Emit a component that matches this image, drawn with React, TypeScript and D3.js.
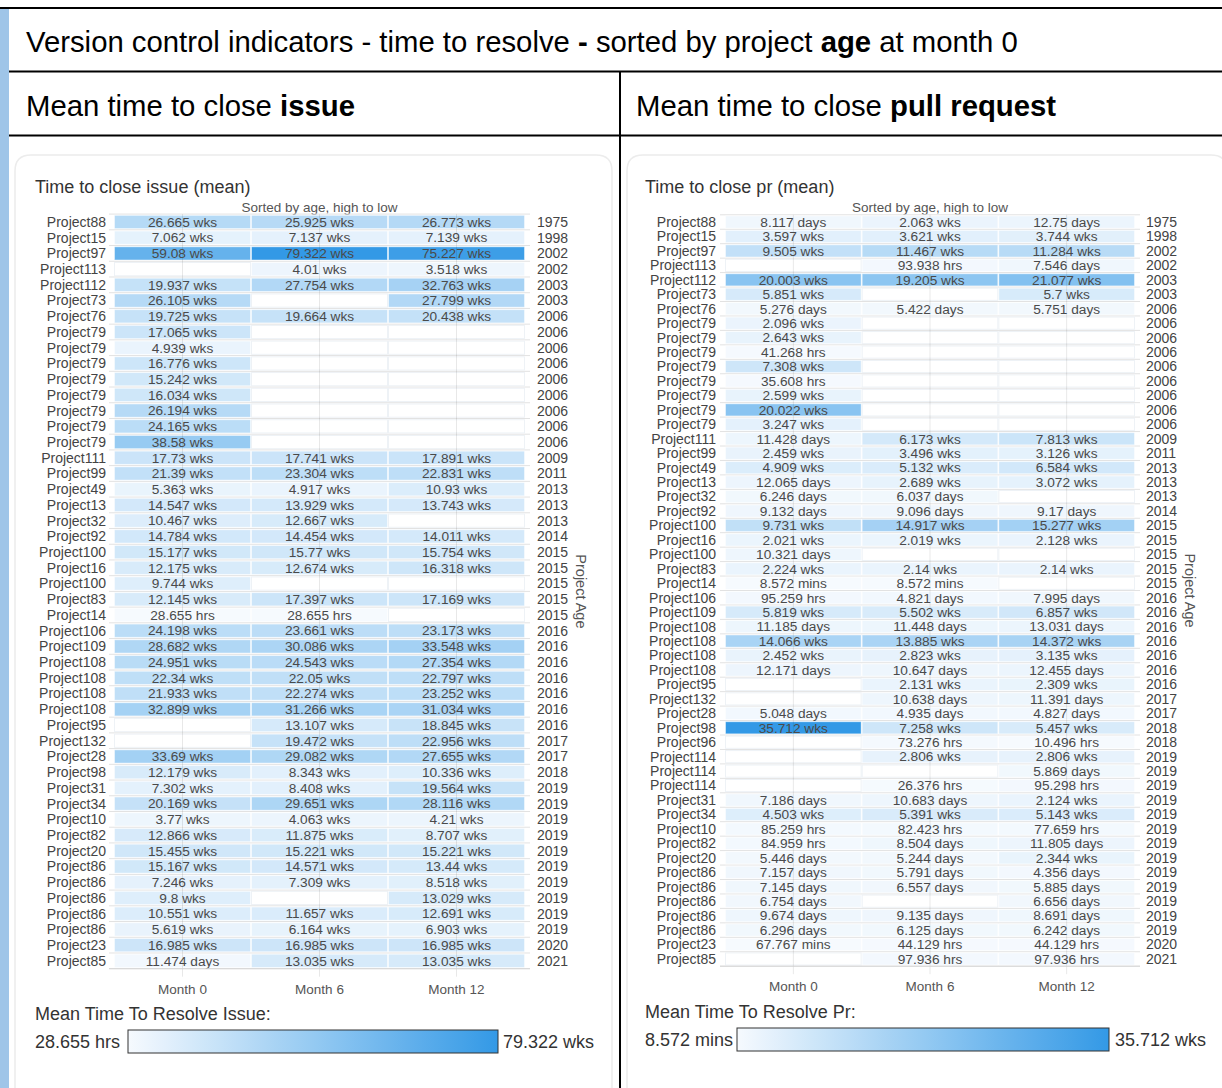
import React from "react";
import * as d3 from "d3";

const FONT = "'Liberation Sans', Arial, Helvetica, sans-serif";

const monthLabels = ["Month 0", "Month 6", "Month 12"];

// ---------- Issue panel data ----------
const issueProjects = [
  "Project88", "Project15", "Project97", "Project113", "Project112", "Project73", "Project76",
  "Project79", "Project79", "Project79", "Project79", "Project79", "Project79", "Project79", "Project79",
  "Project111", "Project99", "Project49", "Project13", "Project32", "Project92", "Project100", "Project16",
  "Project100", "Project83", "Project14", "Project106", "Project109", "Project108", "Project108", "Project108",
  "Project108", "Project95", "Project132", "Project28", "Project98", "Project31", "Project34", "Project10",
  "Project82", "Project20", "Project86", "Project86", "Project86", "Project86", "Project86", "Project23", "Project85",
];
const issueYears = [
  1975, 1998, 2002, 2002, 2003, 2003, 2006,
  2006, 2006, 2006, 2006, 2006, 2006, 2006, 2006,
  2009, 2011, 2013, 2013, 2013, 2014, 2015, 2015,
  2015, 2015, 2015, 2016, 2016, 2016, 2016, 2016,
  2016, 2016, 2017, 2017, 2018, 2019, 2019, 2019,
  2019, 2019, 2019, 2019, 2019, 2019, 2019, 2020, 2021,
];
const issueMonth0 = [
  "26.665 wks", "7.062 wks", "59.08 wks", null, "19.937 wks", "26.105 wks", "19.725 wks",
  "17.065 wks", "4.939 wks", "16.776 wks", "15.242 wks", "16.034 wks", "26.194 wks", "24.165 wks", "38.58 wks",
  "17.73 wks", "21.39 wks", "5.363 wks", "14.547 wks", "10.467 wks", "14.784 wks", "15.177 wks", "12.175 wks",
  "9.744 wks", "12.145 wks", "28.655 hrs", "24.198 wks", "28.682 wks", "24.951 wks", "22.34 wks", "21.933 wks",
  "32.899 wks", null, null, "33.69 wks", "12.179 wks", "7.302 wks", "20.169 wks", "3.77 wks",
  "12.866 wks", "15.455 wks", "15.167 wks", "7.246 wks", "9.8 wks", "10.551 wks", "5.619 wks", "16.985 wks", "11.474 days",
];
const issueMonth6 = [
  "25.925 wks", "7.137 wks", "79.322 wks", "4.01 wks", "27.754 wks", null, "19.664 wks",
  null, null, null, null, null, null, null, null,
  "17.741 wks", "23.304 wks", "4.917 wks", "13.929 wks", "12.667 wks", "14.454 wks", "15.77 wks", "12.674 wks",
  null, "17.397 wks", "28.655 hrs", "23.661 wks", "30.086 wks", "24.543 wks", "22.05 wks", "22.274 wks",
  "31.266 wks", "13.107 wks", "19.472 wks", "29.082 wks", "8.343 wks", "8.408 wks", "29.651 wks", "4.063 wks",
  "11.875 wks", "15.221 wks", "14.571 wks", "7.309 wks", null, "11.657 wks", "6.164 wks", "16.985 wks", "13.035 wks",
];
const issueMonth12 = [
  "26.773 wks", "7.139 wks", "75.227 wks", "3.518 wks", "32.763 wks", "27.799 wks", "20.438 wks",
  null, null, null, null, null, null, null, null,
  "17.891 wks", "22.831 wks", "10.93 wks", "13.743 wks", null, "14.011 wks", "15.754 wks", "16.318 wks",
  null, "17.169 wks", null, "23.173 wks", "33.548 wks", "27.354 wks", "22.797 wks", "23.252 wks",
  "31.034 wks", "18.845 wks", "22.956 wks", "27.655 wks", "10.336 wks", "19.564 wks", "28.116 wks", "4.21 wks",
  "8.707 wks", "15.221 wks", "13.44 wks", "8.518 wks", "13.029 wks", "12.691 wks", "6.903 wks", "16.985 wks", "13.035 wks",
];

// ---------- Pull request panel data ----------
const prProjects = [
  "Project88", "Project15", "Project97", "Project113", "Project112", "Project73", "Project76",
  "Project79", "Project79", "Project79", "Project79", "Project79", "Project79", "Project79", "Project79",
  "Project111", "Project99", "Project49", "Project13", "Project32", "Project92", "Project100", "Project16",
  "Project100", "Project83", "Project14", "Project106", "Project109", "Project108", "Project108", "Project108",
  "Project108", "Project95", "Project132", "Project28", "Project98", "Project96", "Project114", "Project114",
  "Project114", "Project31", "Project34", "Project10", "Project82", "Project20", "Project86", "Project86",
  "Project86", "Project86", "Project86", "Project23", "Project85",
];
const prYears = [
  1975, 1998, 2002, 2002, 2003, 2003, 2006,
  2006, 2006, 2006, 2006, 2006, 2006, 2006, 2006,
  2009, 2011, 2013, 2013, 2013, 2014, 2015, 2015,
  2015, 2015, 2015, 2016, 2016, 2016, 2016, 2016,
  2016, 2016, 2017, 2017, 2018, 2018, 2019, 2019,
  2019, 2019, 2019, 2019, 2019, 2019, 2019, 2019,
  2019, 2019, 2019, 2020, 2021,
];
const prMonth0 = [
  "8.117 days", "3.597 wks", "9.505 wks", null, "20.003 wks", "5.851 wks", "5.276 days",
  "2.096 wks", "2.643 wks", "41.268 hrs", "7.308 wks", "35.608 hrs", "2.599 wks", "20.022 wks", "3.247 wks",
  "11.428 days", "2.459 wks", "4.909 wks", "12.065 days", "6.246 days", "9.132 days", "9.731 wks", "2.021 wks",
  "10.321 days", "2.224 wks", "8.572 mins", "95.259 hrs", "5.819 wks", "11.185 days", "14.066 wks", "2.452 wks",
  "12.171 days", null, null, "5.048 days", "35.712 wks", null, null, null,
  null, "7.186 days", "4.503 wks", "85.259 hrs", "84.959 hrs", "5.446 days", "7.157 days", "7.145 days",
  "6.754 days", "9.674 days", "6.296 days", "67.767 mins", null,
];
const prMonth6 = [
  "2.063 wks", "3.621 wks", "11.467 wks", "93.938 hrs", "19.205 wks", null, "5.422 days",
  null, null, null, null, null, null, null, null,
  "6.173 wks", "3.496 wks", "5.132 wks", "2.689 wks", "6.037 days", "9.096 days", "14.917 wks", "2.019 wks",
  null, "2.14 wks", "8.572 mins", "4.821 days", "5.502 wks", "11.448 days", "13.885 wks", "2.823 wks",
  "10.647 days", "2.131 wks", "10.638 days", "4.935 days", "7.258 wks", "73.276 hrs", "2.806 wks", null,
  "26.376 hrs", "10.683 days", "5.391 wks", "82.423 hrs", "8.504 days", "5.244 days", "5.791 days", "6.557 days",
  null, "9.135 days", "6.125 days", "44.129 hrs", "97.936 hrs",
];
const prMonth12 = [
  "12.75 days", "3.744 wks", "11.284 wks", "7.546 days", "21.077 wks", "5.7 wks", "5.751 days",
  null, null, null, null, null, null, null, null,
  "7.813 wks", "3.126 wks", "6.584 wks", "3.072 wks", null, "9.17 days", "15.277 wks", "2.128 wks",
  null, "2.14 wks", null, "7.995 days", "6.857 wks", "13.031 days", "14.372 wks", "3.135 wks",
  "12.455 days", "2.309 wks", "11.391 days", "4.827 days", "5.457 wks", "10.496 hrs", "2.806 wks", "5.869 days",
  "95.298 hrs", "2.124 wks", "5.143 wks", "77.659 hrs", "11.805 days", "2.344 wks", "4.356 days", "5.885 days",
  "6.656 days", "8.691 days", "6.242 days", "44.129 hrs", "97.936 hrs",
];

const unitHours: Record<string, number> = { mins: 1 / 60, hrs: 1, days: 24, wks: 168 };
function toHours(s: string | null): number | null {
  if (!s) return null;
  const [n, u] = s.split(" ");
  return +n * unitHours[u];
}

const LOW = "#f6fafe";
const HIGH = "#3399e6";

type Geo = {
  cardX: number; cardW: number; cardY: number;
  titleX: number; titleY: number; subY: number;
  left: number; right: number; top: number; bottom: number;
  labelX: number; yearX: number; axisTitleX: number; monthY: number;
  legTitleY: number; barX: number; barW: number; barY: number; barH: number;
  legLabelY: number; legMinX: number; legMaxX: number;
};

function Panel(props: {
  id: string; g: Geo; title: string; legendTitle: string;
  projects: string[]; years: number[]; cols: (string | null)[][];
}) {
  const { id, g, title, legendTitle, projects, years, cols } = props;
  const n = projects.length;
  const y = d3.scaleBand<number>().domain(d3.range(n)).range([g.top, g.bottom]).paddingInner(0.16).paddingOuter(0.08);
  const x = d3.scaleBand<string>().domain(monthLabels).range([g.left, g.right]);
  const step = y.step();
  const all: { s: string; h: number }[] = [];
  cols.forEach((c) => c.forEach((s) => { if (s) all.push({ s, h: toHours(s) as number }); }));
  const minE = all.reduce((a, b) => (b.h < a.h ? b : a));
  const maxE = all.reduce((a, b) => (b.h > a.h ? b : a));
  const color = d3.scaleLinear<string>().domain([minE.h, maxE.h]).range([LOW, HIGH]).interpolate(d3.interpolateRgb);
  const cx = (m: string) => (x(m) as number) + x.bandwidth() / 2;
  const rowTop = (i: number) => g.top + i * step;
  const midY = (g.top + g.bottom) / 2;
  const gradId = "grad-" + id;
  const r = 16;
  const cardPath = `M${g.cardX},1100 L${g.cardX},${g.cardY + r} Q${g.cardX},${g.cardY} ${g.cardX + r},${g.cardY} L${g.cardX + g.cardW - r},${g.cardY} Q${g.cardX + g.cardW},${g.cardY} ${g.cardX + g.cardW},${g.cardY + r} L${g.cardX + g.cardW},1100`;
  const stops = d3.range(0, 1.0001, 0.1);
  return (
    <g fontFamily={FONT}>
      <defs>
        <linearGradient id={gradId} x1="0" x2="1" y1="0" y2="0">
          {stops.map((t) => (
            <stop key={t} offset={t} stopColor={color(minE.h + t * (maxE.h - minE.h))} />
          ))}
        </linearGradient>
      </defs>
      <path d={cardPath} fill="#fff" stroke="#ececec" strokeWidth={1.5} />
      <text x={g.titleX} y={g.titleY} fontSize={18} fill="#333">{title}</text>
      <text x={(g.left + g.right) / 2} y={g.subY} fontSize={13.5} fill="#555" textAnchor="middle">Sorted by age, high to low</text>
      {d3.range(n + 1).map((i) => (
        <line key={"h" + i} x1={g.left - 5} x2={g.right + 5} y1={rowTop(i)} y2={rowTop(i)} stroke="#e2e2e2" strokeWidth={1} />
      ))}
      {cols.map((c, ci) =>
        c.map((s, ri) => {
          const h = toHours(s);
          return (
            <rect key={ci + "-" + ri}
              x={(x(monthLabels[ci]) as number) + 0.5}
              y={y(ri) as number}
              width={x.bandwidth() - 1}
              height={y.bandwidth()}
              fill={h == null ? "#ffffff" : color(h)}
              stroke={h == null ? "#eef2f6" : "#ffffff"}
              strokeOpacity={h == null ? 1 : 0.45}
              strokeWidth={1} />
          );
        })
      )}
      {monthLabels.map((m) => (
        <line key={"v" + m} x1={cx(m)} x2={cx(m)} y1={g.top} y2={g.bottom + 8} stroke="#000" strokeOpacity={0.09} strokeWidth={1} />
      ))}
      {cols.map((c, ci) =>
        c.map((s, ri) => s ? (
          <text key={"t" + ci + "-" + ri} x={cx(monthLabels[ci])} y={(y(ri) as number) + y.bandwidth() / 2}
            dy="0.35em" textAnchor="middle" fontSize={13.7} fill="#4a4a4a">{s}</text>
        ) : null)
      )}
      {projects.map((p, i) => (
        <text key={"p" + i} x={g.labelX} y={(y(i) as number) + y.bandwidth() / 2} dy="0.35em" textAnchor="end" fontSize={14} fill="#444">{p}</text>
      ))}
      {years.map((yr, i) => (
        <text key={"y" + i} x={g.yearX} y={(y(i) as number) + y.bandwidth() / 2} dy="0.35em" fontSize={14} fill="#444">{yr}</text>
      ))}
      <text transform={`translate(${g.axisTitleX},${midY}) rotate(90)`} textAnchor="middle" dy="0.35em" fontSize={14.5} fill="#555">Project Age</text>
      <line x1={g.left - 5} x2={g.right + 5} y1={g.bottom} y2={g.bottom} stroke="#d6d6d6" />
      {monthLabels.map((m) => (
        <text key={"m" + m} x={cx(m)} y={g.monthY} textAnchor="middle" fontSize={13.5} fill="#555">{m}</text>
      ))}
      <text x={g.titleX} y={g.legTitleY} fontSize={18} fill="#333">{legendTitle}</text>
      <text x={g.legMinX} y={g.legLabelY} fontSize={18} fill="#333">{minE.s}</text>
      <rect x={g.barX} y={g.barY} width={g.barW} height={g.barH} fill={`url(#${gradId})`} stroke="#333" strokeWidth={1} />
      <text x={g.legMaxX} y={g.legLabelY} fontSize={18} fill="#333">{maxE.s}</text>
    </g>
  );
}

const leftGeo: Geo = {
  cardX: 15, cardW: 597, cardY: 155, titleX: 35, titleY: 193, subY: 212,
  left: 114, right: 525, top: 214.1, bottom: 968.7,
  labelX: 106, yearX: 537, axisTitleX: 581, monthY: 994,
  legTitleY: 1020, barX: 128, barW: 370, barY: 1030, barH: 23,
  legLabelY: 1048, legMinX: 35, legMaxX: 503,
};
const rightGeo: Geo = {
  cardX: 627, cardW: 600, cardY: 155, titleX: 645, titleY: 193, subY: 212,
  left: 725, right: 1135, top: 214.8, bottom: 966.2,
  labelX: 716, yearX: 1146, axisTitleX: 1190, monthY: 991,
  legTitleY: 1018, barX: 737, barW: 372, barY: 1028, barH: 23,
  legLabelY: 1046, legMinX: 645, legMaxX: 1115,
};

export default function App() {
  return (
    <div style={{ position: "absolute", left: 0, top: 0 }}>
      <svg width={1222} height={1088} style={{ display: "block", background: "#fff" }}>
        <rect x={0} y={0} width={1222} height={1088} fill="#fff" />
        <rect x={0} y={8} width={9} height={1080} fill="#9fc5e8" />
        <text x={26} y={52} fontFamily={FONT} fontSize={29.3} fill="#000">
          Version control indicators - time to resolve <tspan fontWeight="bold">-</tspan> sorted by project <tspan fontWeight="bold">age</tspan> at month 0
        </text>
        <text x={26} y={116} fontFamily={FONT} fontSize={29.3} fill="#000">
          Mean time to close <tspan fontWeight="bold">issue</tspan>
        </text>
        <text x={636} y={116} fontFamily={FONT} fontSize={29.3} fill="#000">
          Mean time to close <tspan fontWeight="bold">pull request</tspan>
        </text>
        <line x1={0} x2={1222} y1={8} y2={8} stroke="#000" strokeWidth={2} />
        <line x1={9} x2={1222} y1={71.5} y2={71.5} stroke="#000" strokeWidth={2} />
        <line x1={9} x2={1222} y1={135.5} y2={135.5} stroke="#000" strokeWidth={2} />
        <line x1={620} x2={620} y1={71} y2={1088} stroke="#000" strokeWidth={2} />
        <Panel id="issue" g={leftGeo} title="Time to close issue (mean)" legendTitle="Mean Time To Resolve Issue:"
          projects={issueProjects} years={issueYears} cols={[issueMonth0, issueMonth6, issueMonth12]} />
        <Panel id="pr" g={rightGeo} title="Time to close pr (mean)" legendTitle="Mean Time To Resolve Pr:"
          projects={prProjects} years={prYears} cols={[prMonth0, prMonth6, prMonth12]} />
      </svg>
    </div>
  );
}
